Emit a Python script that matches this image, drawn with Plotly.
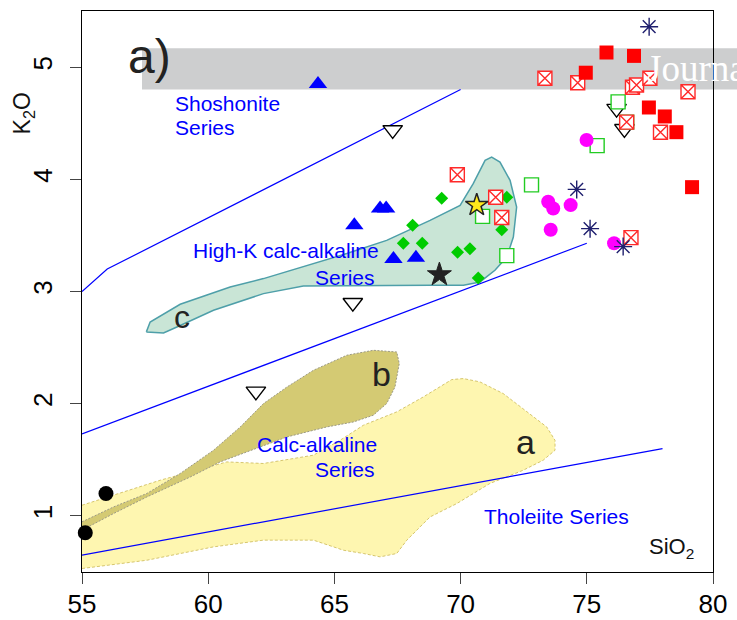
import plotly.graph_objects as go

# ---------------- data ----------------
# boundary lines (Peccerillo & Taylor style)
shosh_x = [55, 56, 70]
shosh_y = [3.0, 3.2, 4.8]
hkca_x = [55, 75]
hkca_y = [1.73, 3.43]
ca_x = [55, 78]
ca_y = [0.65, 1.60]

# field a (yellow)
a_x = [55, 58.1, 60.74, 62.19, 64.17, 65.23, 66.15, 67.47, 68.52, 69.18, 69.65, 70.11, 70.77,
       71.69, 72.75, 73.41, 73.74, 73.74, 73.27, 72.48, 71.16, 69.85, 68.79, 67.87, 67.47,
       66.81, 66.15, 65.36, 64.17, 62.19, 60.21, 57.57, 55]
a_y = [1.095, 1.318, 1.481, 1.467, 1.541, 1.675, 1.808, 1.927, 2.06, 2.149, 2.215, 2.224, 2.194,
       2.09, 1.912, 1.793, 1.674, 1.585, 1.496, 1.407, 1.289, 1.11, 0.991, 0.784, 0.665,
       0.635, 0.665, 0.694, 0.784, 0.784, 0.724, 0.605, 0.531]

# field b (olive)
b_x = [55, 56.25, 57.57, 58.89, 60.21, 61.27, 62.19, 63.12, 64.17, 65.49, 66.54, 67.47,
       67.57, 67.40, 67.07, 66.54, 65.75, 64.70, 63.12, 61.53, 60.47, 59.29, 57.57, 56.25, 55]
b_y = [0.947, 1.08, 1.20, 1.378, 1.585, 1.793, 2.001, 2.149, 2.298, 2.432, 2.476, 2.461,
       2.358, 2.149, 2.001, 1.897, 1.837, 1.793, 1.704, 1.570, 1.481, 1.347, 1.169, 1.021, 0.873]

# field c (green)
c_x = [57.55, 57.70, 58.89, 60.87, 62.19, 63.91, 65.49, 67.07, 68.79, 69.98, 70.50, 70.97,
       71.23, 71.56, 71.96, 72.22, 72.09, 71.83, 71.36, 70.77, 70.11, 68.79, 66.15, 63.77,
       62.19, 60.21, 58.76, 58.23, 57.55]
c_y = [2.64, 2.728, 2.886, 3.04, 3.115, 3.233, 3.338, 3.456, 3.634, 3.768, 3.961, 4.169,
       4.198, 4.154, 3.991, 3.753, 3.486, 3.307, 3.189, 3.085, 3.055, 3.055, 3.055, 3.049,
       2.981, 2.833, 2.684, 2.63, 2.64]

# samples
blue_tri_x = [64.35, 65.79, 66.81, 67.05, 67.34, 68.23]
blue_tri_y = [4.85, 3.59, 3.74, 3.74, 3.29, 3.30]

black_dtri_x = [67.31, 76.18, 76.49, 65.73, 61.89]
black_dtri_y = [4.44, 4.63, 4.45, 2.90, 2.11]

green_dia_x = [69.25, 68.10, 67.73, 68.48, 69.88, 70.37, 70.70, 71.83, 71.63]
green_dia_y = [3.83, 3.59, 3.43, 3.43, 3.35, 3.38, 3.12, 3.84, 3.55]

green_sq_x = [70.87, 71.83, 72.81, 75.41, 76.24, 76.58]
green_sq_y = [3.67, 3.32, 3.95, 4.30, 4.69, 4.51]

red_xsq_x = [69.87, 71.39, 71.63, 73.34, 74.64, 76.81, 76.97, 77.50, 79.01, 77.92, 76.58, 76.75]
red_xsq_y = [4.04, 3.84, 3.66, 4.90, 4.86, 4.82, 4.84, 4.90, 4.78, 4.42, 4.51, 3.48]

red_sq_x = [75.78, 76.87, 74.96, 77.46, 78.09, 78.55, 79.17]
red_sq_y = [5.13, 5.10, 4.95, 4.64, 4.56, 4.42, 3.93]

magenta_x = [74.99, 73.47, 73.67, 74.36, 73.57, 76.08]
magenta_y = [4.35, 3.80, 3.74, 3.77, 3.55, 3.43]

aster_x = [77.47, 74.60, 75.13, 76.44]
aster_y = [5.36, 3.91, 3.56, 3.40]

black_circ_x = [55.95, 55.13]
black_circ_y = [1.20, 0.85]

black_star_x = [69.16]
black_star_y = [3.15]
yellow_star_x = [70.64]
yellow_star_y = [3.77]

x_ticks = [55, 60, 65, 70, 75, 80]
y_ticks = [1, 2, 3, 4, 5]

# ---------------- figure ----------------
FONT = "Arial, Liberation Sans, sans-serif"
BLUE = "#0000FF"

fig = go.Figure()

def poly(x, y, fill, line, dash, width):
    fig.add_trace(go.Scatter(x=x, y=y, mode="lines", fill="toself", fillcolor=fill,
                             line=dict(color=line, width=width, dash=dash),
                             hoverinfo="skip", showlegend=False))

poly(a_x, a_y, "#FEF6B0", "#D6C66E", "3px,2px", 1)
poly(b_x, b_y, "#D4CA73", "#9C9A86", "2px,1.5px", 1)
poly(c_x, c_y, "#C9E5D6", "#4E9FA9", None, 1.5)

for lx, ly in [(shosh_x, shosh_y), (hkca_x, hkca_y), (ca_x, ca_y)]:
    fig.add_trace(go.Scatter(x=lx, y=ly, mode="lines", line=dict(color=BLUE, width=1.2),
                             hoverinfo="skip", showlegend=False))

def pts(x, y, **marker):
    fig.add_trace(go.Scatter(x=x, y=y, mode="markers", marker=marker, cliponaxis=False,
                             hoverinfo="skip", showlegend=False))

pts(black_circ_x, black_circ_y, symbol="circle", size=15, color="black")
pts(blue_tri_x, blue_tri_y, symbol="triangle-up", size=16, color="#0000FF")
pts(black_dtri_x, black_dtri_y, symbol="triangle-down", size=17, color="white",
    line=dict(color="black", width=1.4))
pts(green_dia_x, green_dia_y, symbol="diamond", size=10, color="#00CC00")
pts(green_sq_x, green_sq_y, symbol="square", size=14, color="white",
    line=dict(color="#22CC22", width=1.4))
pts(red_xsq_x, red_xsq_y, symbol="square-x", size=14, color="white",
    line=dict(color="#FF2A2A", width=1.4))
pts(red_sq_x, red_sq_y, symbol="square", size=14, color="#FF0000")
pts(magenta_x, magenta_y, symbol="circle", size=14, color="#FF00FF")
pts(aster_x, aster_y, symbol="asterisk-open", size=15, color="#1F1F6E",
    line=dict(color="#1F1F6E", width=1.4))
pts(black_star_x, black_star_y, symbol="star", size=18, color="#222222",
    line=dict(color="#222222", width=1))
pts(yellow_star_x, yellow_star_y, symbol="star", size=17, color="#FFE81A",
    line=dict(color="#222222", width=1.5))

# watermark band
fig.add_shape(type="rect", xref="paper", yref="y", x0=(142 - 82) / 631, x1=1.08,
              y0=4.80, y1=5.167, fillcolor="#CDCECF", line=dict(width=0), layer="below")

ann = []
def txt(x, y, t, size, color=BLUE, xanchor="center", family=FONT, xref="x", yref="y", angle=0):
    ann.append(dict(x=x, y=y, xref=xref, yref=yref, text=t, showarrow=False,
                    font=dict(family=family, size=size, color=color),
                    xanchor=xanchor, yanchor="middle", textangle=angle))

LS = 21
txt(58.60, 4.677, "Shoshonite", LS, xanchor="left")
txt(58.60, 4.463, "Series", LS, xanchor="left")
txt(63.08, 3.367, "High-K calc-alkaline", LS)
txt(65.42, 3.129, "Series", LS)
txt(64.31, 1.639, "Calc-alkaline", LS)
txt(65.42, 1.413, "Series", LS)
txt(73.80, 0.997, "Tholeiite Series", LS)
txt(72.59, 1.659, "a", 34, color="#222222")
txt(66.88, 2.268, "b", 34, color="#222222")
txt(58.96, 2.773, "c", 32, color="#222222")
txt(78.37, 0.712, "SiO<sub>2</sub>", 22, color="#111111")
txt(57.66, 5.095, "a)", 48, color="#222222")
txt((645 - 82) / 631, 4.99, "Journal", 37, color="white", xanchor="left",
    family="Liberation Serif, Times New Roman, serif", xref="paper")
txt(-0.093, 4.59, "K<sub>2</sub>O", 23, color="#111111", xref="paper", angle=-90)

fig.update_layout(
    template="none",
    width=737, height=620,
    margin=dict(l=82, r=24, t=11, b=48, pad=0),
    paper_bgcolor="white", plot_bgcolor="white",
    annotations=ann,
    font=dict(family=FONT, color="black"),
)
fig.update_xaxes(range=[55, 80], tickvals=x_ticks, ticks="outside", ticklen=11, tickwidth=1.3,
                 showline=True, linecolor="black", linewidth=1.3, mirror=True, automargin=False,
                 showgrid=False, zeroline=False, ticklabelstandoff=-2,
                 tickfont=dict(size=26, family=FONT))
fig.update_yaxes(range=[0.5, 5.5], tickvals=y_ticks, ticks="outside", ticklen=11, tickwidth=1.3,
                 showline=True, linecolor="black", linewidth=1.3, mirror=True, automargin=False,
                 showgrid=False, zeroline=False, tickangle=-90, ticklabelstandoff=7,
                 tickfont=dict(size=26, family=FONT))

fig.write_html("out.html")
